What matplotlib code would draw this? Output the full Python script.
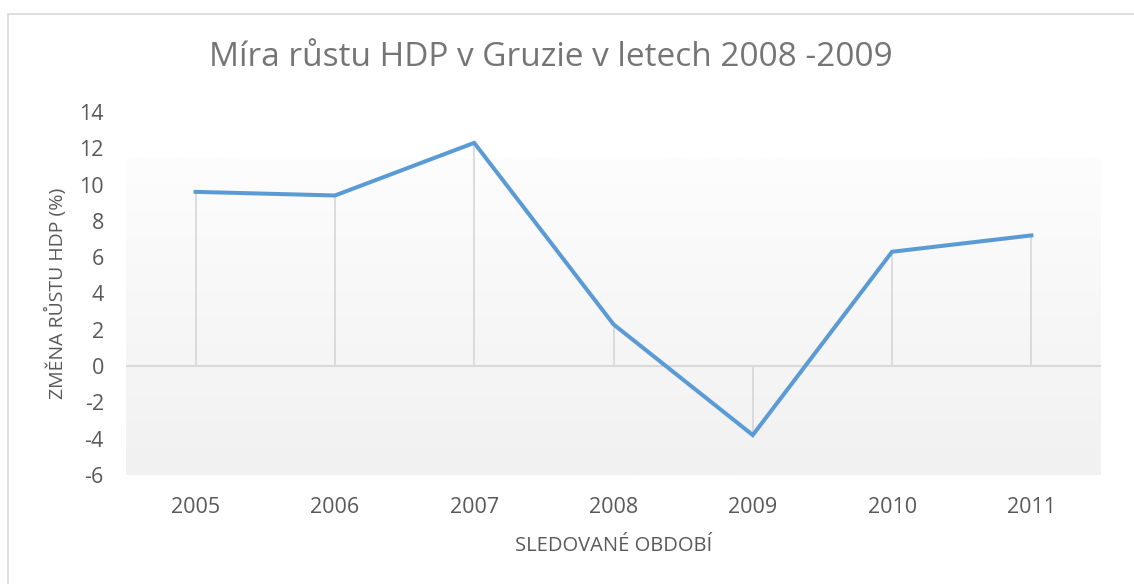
import numpy as np
import matplotlib
matplotlib.use("Agg")
import matplotlib.pyplot as plt
from matplotlib.patches import Rectangle

plt.rcParams['font.family'] = ['Open Sans', 'DejaVu Sans']

# data
years = ['2005', '2006', '2007', '2008', '2009', '2010', '2011']
growth = [9.6, 9.4, 12.3, 2.3, -3.8, 6.3, 7.2]
yticks = [-6, -4, -2, 0, 2, 4, 6, 8, 10, 12, 14]

title = 'Míra růstu HDP v Gruzie v letech 2008 -2009'
xlab = 'SLEDOVANÉ OBDOBÍ'
ylab = 'ZMĚNA RŮSTU HDP (%)'

line_col = '#5b9bd5'
grid_col = '#d9d9d9'
text_col = '#595959'

fig = plt.figure(figsize=(11.34, 5.84), dpi=100)
ax = fig.add_axes([126/1134, 1 - 475/584, (1101 - 126)/1134, (475 - 112)/584])

x = np.arange(len(years))

# plot area gradient (white at top -> light gray at bottom)
grad = np.linspace(0, 1, 256).reshape(-1, 1)
ax.imshow(grad, extent=(-0.5, len(years) - 0.5, -6, 11.45), aspect='auto',
          cmap=matplotlib.colors.LinearSegmentedColormap.from_list('g', ['#f1f1f1', '#fdfdfd']),
          origin='lower', zorder=0)

ax.axhline(0, color=grid_col, lw=1.5, zorder=1)
ax.vlines(x, 0, growth, color=grid_col, lw=1.3, zorder=1)
ax.plot(x, growth, color=line_col, lw=2.9, solid_joinstyle='miter', zorder=3)

ax.set_xlim(-0.5, len(years) - 0.5)
ax.set_ylim(-6, 14)
ax.set_yticks(yticks)
ax.set_yticklabels([str(t) for t in yticks])
ax.set_xticks(x)
ax.set_xticklabels(years)
ax.tick_params(length=0, labelsize=15.5, labelcolor=text_col)
ax.tick_params(axis='y', pad=16)
ax.tick_params(axis='x', pad=16)
for s in ax.spines.values():
    s.set_visible(False)

ax.set_xlabel(xlab, fontsize=14.5, color=text_col, labelpad=13)
ax.set_ylabel(ylab, fontsize=14, color=text_col, labelpad=9)

fig.text(0.486, 1 - 58/584, title, fontsize=24, color='#757575', ha='center', va='center')

# chart border
fig.patches.append(Rectangle((8/1134, -0.05), 1.2, 1 - 13.5/584 + 0.05,
                             transform=fig.transFigure, fill=False,
                             edgecolor='#d9d9d9', lw=1.2))

fig.savefig('out.png', dpi=100, facecolor='white')
